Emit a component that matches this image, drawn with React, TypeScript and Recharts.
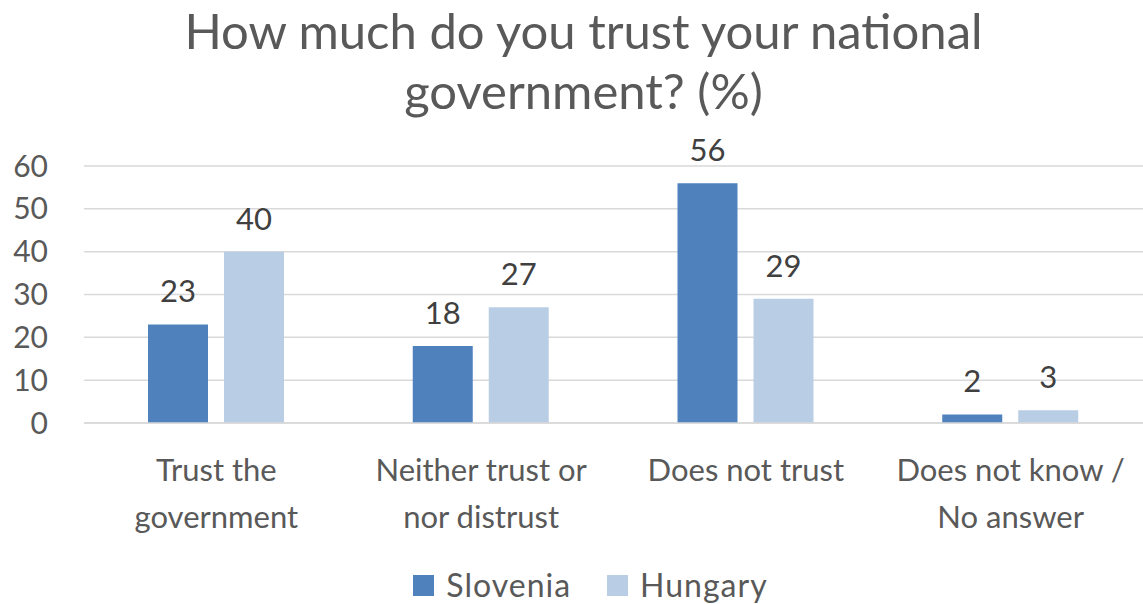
import React from 'react';
import { BarChart, Bar, XAxis, YAxis, CartesianGrid, LabelList } from 'recharts';

const categories = ['Trust the\ngovernment', 'Neither trust or\nnor distrust', 'Does not trust', 'Does not know /\nNo answer'];
const slovenia = [23, 18, 56, 2];
const hungary = [40, 27, 29, 3];
const yTicks = [0, 10, 20, 30, 40, 50, 60];

const SERIES = [
  { key: 'slovenia', label: 'Slovenia', color: '#4f81bd' },
  { key: 'hungary', label: 'Hungary', color: '#b9cde5' },
];

const FONT = 'Lato, "Open Sans", sans-serif';

const data = categories.map((c, i) => ({ name: c, slovenia: slovenia[i], hungary: hungary[i] }));

function CategoryTick(props: any) {
  const { x, y, payload } = props;
  const lines = String(payload.value).split('\n');
  return (
    <text x={x} y={y} textAnchor="middle" fill="#595959" fontSize={31} fontFamily={FONT}>
      {lines.map((l, i) => (
        <tspan key={i} x={x} dy={i === 0 ? 50 : 47}>{l}</tspan>
      ))}
    </text>
  );
}

export default function App() {
  return (
    <div style={{ position: 'fixed', top: 0, left: 0, width: 1143, height: 604, background: '#fff', fontFamily: FONT, overflow: 'hidden' }}>
      <div style={{ position: 'absolute', top: 0, left: 0, width: 1143, paddingLeft: 24, boxSizing: 'border-box', textAlign: 'center', fontSize: 49, lineHeight: '60px', color: '#595959' }}>
        How much do you trust your national<br />government? (%)
      </div>
      <div style={{ position: 'absolute', left: 0, top: 0 }}>
        <BarChart width={1143} height={604} data={data} margin={{ top: 166, right: 0, left: 0, bottom: 181 - 130 }}
          barSize={60} barGap={16}>
          <CartesianGrid vertical={false} stroke="#d9d9d9" strokeWidth={1.5} />
          <XAxis dataKey="name" height={130} axisLine={{ stroke: '#d9d9d9', strokeWidth: 1.5 }} tickLine={false}
            tick={<CategoryTick />} interval={0} />
          <YAxis width={84} domain={[0, 60]} ticks={yTicks} axisLine={false} tickLine={false} tickSize={0} tickMargin={36}
            tick={{ fill: '#595959', fontSize: 30, fontFamily: FONT }} />
          {SERIES.map(s => (
            <Bar key={s.key} dataKey={s.key} fill={s.color} isAnimationActive={false}>
              <LabelList dataKey={s.key} position="top" offset={22} fill="#404040" fontSize={31} fontFamily={FONT} />
            </Bar>
          ))}
        </BarChart>
      </div>
      <div style={{ position: 'absolute', top: 566, left: 0, width: 1143, paddingLeft: 38, boxSizing: 'border-box', display: 'flex', justifyContent: 'center', gap: 36, fontSize: 32, lineHeight: '38px', letterSpacing: 1, color: '#595959' }}>
        {SERIES.map(s => (
          <div key={s.key} style={{ display: 'flex', alignItems: 'center' }}>
            <span style={{ display: 'inline-block', width: 21, height: 21, background: s.color, marginRight: 12 }} />
            <span>{s.label}</span>
          </div>
        ))}
      </div>
    </div>
  );
}
